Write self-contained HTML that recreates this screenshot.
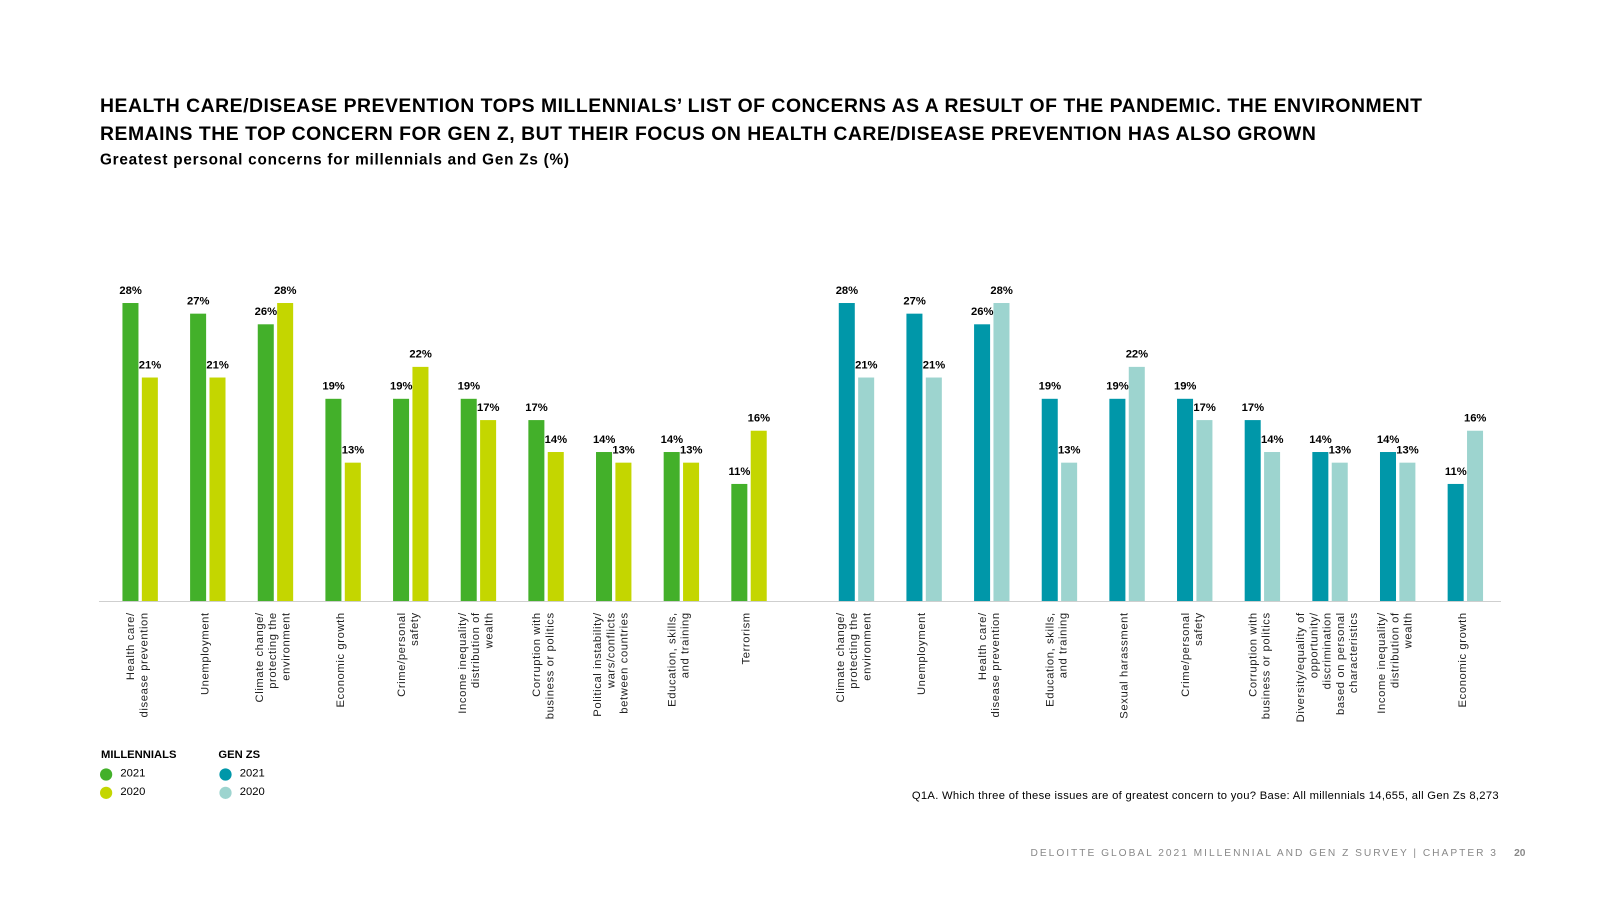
<!DOCTYPE html>
<html><head><meta charset="utf-8"><style>
body{margin:0;background:#fff;font-family:"Liberation Sans",sans-serif;}
#outer{width:1600px;height:900px;overflow:hidden;position:relative;}
#wrap{position:absolute;left:0;top:0;width:1600px;height:900px;transform:scale(1.0204);transform-origin:0 0;}
.title{position:absolute;left:98px;top:91px;font-size:19px;font-weight:bold;line-height:27px;color:#000;letter-spacing:0.5px;white-space:nowrap;}
.sub{position:absolute;left:98px;top:148px;font-size:15px;font-weight:bold;color:#000;letter-spacing:0.75px;}
svg{position:absolute;left:0;top:0;}
</style></head><body>
<div id="outer">
<div id="wrap">
<div class="title">HEALTH CARE/DISEASE PREVENTION TOPS MILLENNIALS’ LIST OF CONCERNS AS A RESULT OF THE PANDEMIC. THE ENVIRONMENT<br>REMAINS THE TOP CONCERN FOR GEN Z, BUT THEIR FOCUS ON HEALTH CARE/DISEASE PREVENTION HAS ALSO GROWN</div>
<div class="sub">Greatest personal concerns for millennials and Gen Zs (%)</div>
<svg id="chart" width="1600" height="900"></svg>
</div>
</div>
<script>
const milCategories=[["Health care/","disease prevention"],["Unemployment"],["Climate change/","protecting the","environment"],["Economic growth"],["Crime/personal","safety"],["Income inequality/","distribution of","wealth"],["Corruption with","business or politics"],["Political instability/","wars/conflicts","between countries"],["Education, skills,","and training"],["Terrorism"]];
const mil2021=[28,27,26,19,19,19,17,14,14,11];
const mil2020=[21,21,28,13,22,17,14,13,13,16];
const genzCategories=[["Climate change/","protecting the","environment"],["Unemployment"],["Health care/","disease prevention"],["Education, skills,","and training"],["Sexual harassment"],["Crime/personal","safety"],["Corruption with","business or politics"],["Diversity/equality of","opportunity/","discrimination","based on personal","characteristics"],["Income inequality/","distribution of","wealth"],["Economic growth"]];
const genz2021=[28,27,26,19,19,19,17,14,14,11];
const genz2020=[21,21,28,13,22,17,14,13,13,16];

const NS="http://www.w3.org/2000/svg";
const svg=document.getElementById('chart');
const baseY=589, pxPer=10.43;
const y=v=>baseY-v*pxPer;
function mk(tag,attrs){const e=document.createElementNS(NS,tag);for(const k in attrs)e.setAttribute(k,attrs[k]);svg.appendChild(e);return e;}

const axis=mk('line',{x1:97,x2:1471,y1:baseY+0.5,y2:baseY+0.5,stroke:'#cfcfcf','stroke-width':1});



function group(x0,step,cats,a,b,ca,cb,prefix){
  cats.forEach((lines,i)=>{
    const x=x0+i*step;
    const r1=mk('rect',{x:x,y:y(a[i]),width:15.7,height:a[i]*pxPer,fill:ca});
    
    
    const r2=mk('rect',{x:x+19,y:y(b[i]),width:15.7,height:b[i]*pxPer,fill:cb});
    
    
    const t1=mk('text',{x:x+8,y:y(a[i])-9,'text-anchor':'middle','font-size':11,'font-weight':'bold',fill:'#000'});
    t1.textContent=a[i]+'%';
    
    
    const t2=mk('text',{x:x+27,y:y(b[i])-9,'text-anchor':'middle','font-size':11,'font-weight':'bold',fill:'#000'});
    t2.textContent=b[i]+'%';
    
    
    const cx=x+14, n=lines.length;
    lines.forEach((ln,j)=>{
      const lx=cx-(n-1)*6.5+j*13+4;
      const t=mk('text',{x:0,y:0,transform:`translate(${lx},600) rotate(-90)`,'text-anchor':'end','font-size':11,fill:'#222','letter-spacing':'0.6'});
      t.textContent=ln;
      
      
    });
  });
}
group(120,66.3,milCategories,mil2021,mil2020,'#43b02a','#c4d600','millennials');
group(822,66.3,genzCategories,genz2021,genz2020,'#0097a9','#9dd4cf','genz');

function txt(x,yy,s,size,opts,name){const t=mk('text',Object.assign({x:x,y:yy,'font-size':size,fill:'#000'},opts||{}));t.textContent=s;return t;}
txt(99,743,'MILLENNIALS',11,{'font-weight':'bold'},'legend-title-millennials');
txt(214,743,'GEN ZS',11,{'font-weight':'bold'},'legend-title-genz');
[['#43b02a',104,761,'2021'],['#c4d600',104,779,'2020'],['#0097a9',221,761,'2021'],['#9dd4cf',221,779,'2020']].forEach(d=>{
  const c=mk('circle',{cx:d[1],cy:d[2]-2,r:6,fill:d[0]});
  
  
  txt(d[1]+14,d[2],d[3],11,{},'legend-entry');
});
txt(1469,783,'Q1A. Which three of these issues are of greatest concern to you? Base: All millennials 14,655, all Gen Zs 8,273',11,{'text-anchor':'end','letter-spacing':'0.3'},'footnote');
txt(1468,839,'DELOITTE GLOBAL 2021 MILLENNIAL AND GEN Z SURVEY  |  CHAPTER 3',10,{'text-anchor':'end',fill:'#888','letter-spacing':'1.95'},'footer-text');
txt(1495,839,'20',10,{'text-anchor':'end',fill:'#888','font-weight':'bold'},'page-number');
</script>
</body></html>
